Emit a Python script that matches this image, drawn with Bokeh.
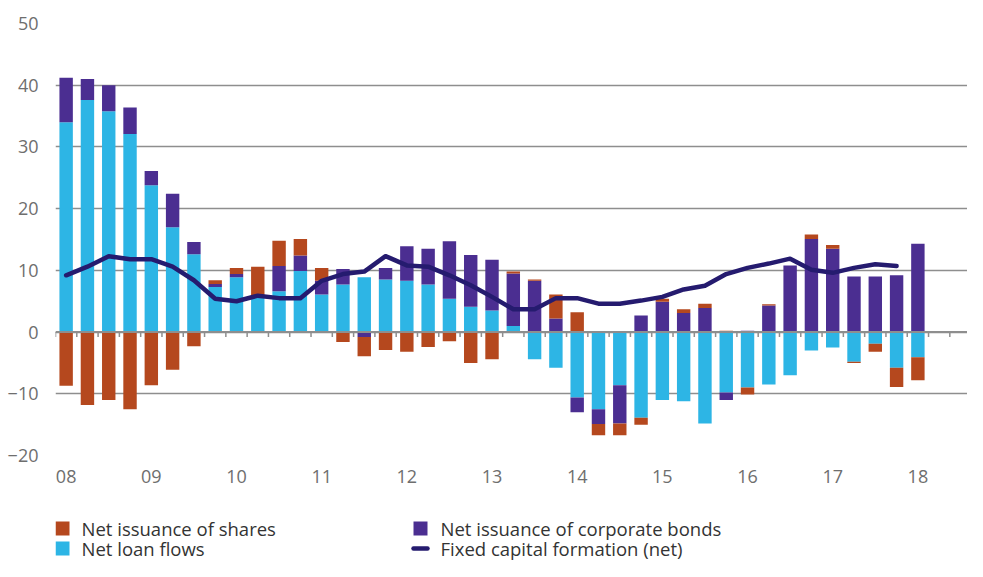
import numpy as np
from bokeh.plotting import figure
from bokeh.layouts import column
from bokeh.models import FixedTicker, Span, Range1d
from bokeh.core.properties import value
from bokeh.embed import file_html
from bokeh.resources import INLINE

# ---- data (quarterly, 2008Q1 .. 2018Q1) ----
year_labels = ["08", "09", "10", "11", "12", "13", "14", "15", "16", "17", "18"]
quarter_index = list(range(41))

net_loan_flows = [34.0, 37.6, 35.8, 32.1, 23.8, 17.0, 12.6, 7.3, 8.9, 5.9,
                  6.6, 9.9, 6.1, 7.7, 8.9, 8.5, 8.3, 7.7, 5.4, 4.1,
                  3.5, 1.0, -4.4, -5.8, -10.6, -12.5, -8.6, -13.9, -11.0, -11.2,
                  -14.8, -9.8, -9.0, -8.5, -7.0, -3.0, -2.5, -4.8, -1.9, -5.8,
                  -4.1]
net_bonds = [7.2, 3.4, 4.2, 4.3, 2.3, 5.4, 2.0, 0.5, 0.5, 0.0,
             4.1, 2.5, 2.2, 2.5, -0.8, 1.9, 5.6, 5.8, 9.3, 8.4,
             8.2, 8.5, 8.3, 2.2, -2.4, -2.4, -6.2, 2.7, 4.9, 3.1,
             3.9, -1.2, 0.2, 4.3, 10.8, 15.1, 13.5, 9.0, 9.0, 9.2,
             14.3]
net_shares = [-8.7, -11.8, -11.0, -12.5, -8.6, -6.1, -2.3, 0.6, 1.0, 4.7,
              4.1, 2.7, 2.1, -1.6, -3.1, -2.9, -3.2, -2.4, -1.5, -5.0,
              -4.4, 0.3, 0.2, 3.9, 3.2, -1.8, -1.9, -1.1, 0.5, 0.6,
              0.7, 0.2, -1.1, 0.2, 0.0, 0.7, 0.6, -0.2, -1.3, -3.1,
              -3.7]
capital_formation = [9.2, 10.6, 12.3, 11.8, 11.8, 10.6, 8.4, 5.4, 5.0, 5.9,
                     5.5, 5.5, 8.3, 9.4, 9.8, 12.3, 10.8, 10.6, 9.2, 7.6,
                     5.7, 3.7, 3.7, 5.5, 5.5, 4.6, 4.6, 5.1, 5.7, 6.9,
                     7.5, 9.4, 10.4, 11.1, 11.9, 10.1, 9.6, 10.4, 11.0, 10.7]

legend_labels_bars = ["Net issuance of shares", "Net loan flows",
                      "Net issuance of corporate bonds"]
legend_label_line = "Fixed capital formation (net)"

C_SHARES = "#b5481e"
C_LOANS = "#2db5e5"
C_BONDS = "#4b2e91"
C_LINE = "#251b6f"
C_GRID = "#8e8e8e"
FONT = "Open Sans"

n = len(quarter_index)


def stack(series_list):
    pos = np.zeros(n)
    neg = np.zeros(n)
    out = []
    for s in series_list:
        s = np.array(s, dtype=float)
        bottom = np.where(s >= 0, pos, neg)
        top = bottom + s
        pos = np.where(s >= 0, top, pos)
        neg = np.where(s < 0, top, neg)
        out.append((bottom, top))
    return out


(lb, lt), (bb, bt), (sb, st) = stack([net_loan_flows, net_bonds, net_shares])

FIG_W = 967
LEFT = 55
p = figure(width=FIG_W, height=495, output_backend="svg",
           toolbar_location=None,
           x_range=Range1d(-0.5, 42.33), y_range=Range1d(-20, 50),
           min_border_left=LEFT, min_border_right=0, min_border_top=23,
           min_border_bottom=40)
p.outline_line_color = None
p.background_fill_color = "white"

# grid
p.xgrid.grid_line_color = None
p.ygrid.grid_line_color = C_GRID
p.ygrid.grid_line_width = 1.5
p.yaxis.ticker = FixedTicker(ticks=list(range(-20, 51, 10)))
p.ygrid.ticker = FixedTicker(ticks=list(range(-20, 51, 10)))

# axes
for ax in (p.xaxis, p.yaxis):
    ax.axis_line_color = None
    ax.major_tick_line_color = None
    ax.minor_tick_line_color = None
    ax.major_label_text_font = FONT
    ax.major_label_text_font_size = "18px"
    ax.major_label_text_color = "#6e6e6e"
p.yaxis.major_label_standoff = 11
p.xaxis.major_label_standoff = 8
year_ticks = [i * 4 for i in range(len(year_labels))]
p.xaxis.ticker = FixedTicker(ticks=year_ticks)
p.xaxis.major_label_overrides = {t: lab for t, lab in zip(year_ticks, year_labels)}

W = 0.63
p.vbar(x=quarter_index, bottom=lb, top=lt, width=W, fill_color=C_LOANS,
       line_color=None)
p.vbar(x=quarter_index, bottom=bb, top=bt, width=W, fill_color=C_BONDS,
       line_color=None)
p.vbar(x=quarter_index, bottom=sb, top=st, width=W, fill_color=C_SHARES,
       line_color=None)

# zero line with quarter ticks
p.add_layout(Span(location=0, dimension="width", line_color=C_GRID, line_width=2))
tick_x = np.arange(-0.5, 43.0, 1.0)
p.segment(x0=tick_x, y0=np.zeros(len(tick_x)), x1=tick_x,
          y1=np.full(len(tick_x), -0.8), line_color=C_GRID, line_width=1.5)

p.line(x=quarter_index[:len(capital_formation)], y=capital_formation,
       line_color=C_LINE, line_width=4.5, line_join="round", line_cap="round")

# ---- legend strip below the chart (pixel coordinates) ----
LG_H = 66
frame_w = FIG_W - LEFT
lg = figure(width=FIG_W, height=LG_H, output_backend="svg", toolbar_location=None,
            x_range=Range1d(0, frame_w), y_range=Range1d(LG_H, 0),
            min_border_left=LEFT, min_border_right=0, min_border_top=0,
            min_border_bottom=0)
lg.axis.visible = False
lg.grid.visible = False
lg.outline_line_color = None

col_x = [0, 358]
row_y = [33, 53]
sw = 14
# bar swatches: shares (col 0,row 0), loans (col 0,row 1), bonds (col 1,row 0)
sw_x = [col_x[0] + sw / 2, col_x[0] + sw / 2, col_x[1] + sw / 2]
sw_y = [row_y[0], row_y[1], row_y[0]]
lg.rect(x=sw_x, y=sw_y, width=sw, height=sw,
        fill_color=[C_SHARES, C_LOANS, C_BONDS], line_color=None)
# line swatch
lg.segment(x0=[col_x[1]], y0=[row_y[1]], x1=[col_x[1] + sw], y1=[row_y[1]],
           line_color=C_LINE, line_width=4.5, line_cap="round")
lg.text(x=[col_x[0] + 26, col_x[0] + 26, col_x[1] + 27, col_x[1] + 27],
        y=[row_y[0], row_y[1], row_y[0], row_y[1]],
        text=legend_labels_bars + [legend_label_line],
        text_font=value(FONT), text_font_size="18.5px", text_color="#333333",
        text_baseline="middle", text_align="left")

layout = column(p, lg, spacing=0)
open("out.html", "w").write(file_html(layout, INLINE))
